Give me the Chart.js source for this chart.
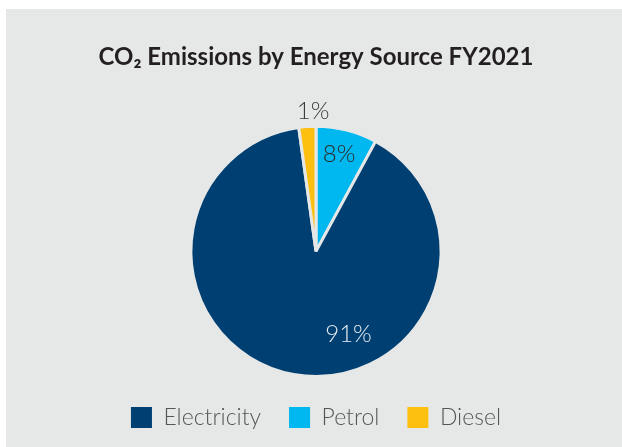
<!DOCTYPE html>
<html>
<head>
<meta charset="utf-8">
<script src="https://cdn.jsdelivr.net/npm/chart.js@4"></script>
<style>
  html, body { margin: 0; padding: 0; background: #ffffff; }
  #panel { position: absolute; left: 6px; top: 9px; width: 616px; height: 438px; background: #e6e8e8; }
</style>
</head>
<body>
<div id="panel"><canvas id="co2-pie"></canvas></div>
<script>
// slices clockwise from 12 o'clock
const sources = ["Petrol", "Electricity", "Diesel"];
const shares = [7.9, 89.9, 2.2];
const shareLabels = ["8%", "91%", "1%"];
const legendOrder = ["Electricity", "Petrol", "Diesel"];

const colours = ["#00b8f0", "#003f72", "#fdc010"];
const labelColours = ["#2b2b2b", "#e9eef3", "#3a3a3a"];
// where each % label sits: fraction along the slice angle, fraction of radius
const labelPlacement = [
  { a: 0.47, r: 0.8 },
  { a: 0.402, r: 0.71 },
  { a: 0.85, r: 1.12 },
];

const sliceLabels = {
  id: "sliceLabels",
  afterDatasetsDraw(chart) {
    const { ctx } = chart;
    const arcs = chart.getDatasetMeta(0).data;
    ctx.save();
    ctx.font = "300 24px Lato";
    ctx.textAlign = "center";
    ctx.textBaseline = "middle";
    arcs.forEach((arc, i) => {
      const { x, y, startAngle, endAngle, outerRadius } = arc.getProps(
        ["x", "y", "startAngle", "endAngle", "outerRadius"],
        true
      );
      const p = labelPlacement[i];
      const ang = startAngle + (endAngle - startAngle) * p.a;
      const r = outerRadius * p.r;
      ctx.fillStyle = labelColours[i];
      ctx.fillText(shareLabels[i], x + Math.cos(ang) * r, y + Math.sin(ang) * r);
    });
    ctx.restore();
  },
};

new Chart(document.getElementById("co2-pie"), {
  type: "pie",
  data: {
    labels: sources,
    datasets: [
      {
        data: shares,
        backgroundColor: colours,
        borderColor: "#e6e8e8",
        borderWidth: 3,
        hoverOffset: 0,
      },
    ],
  },
  options: {
    responsive: true,
    maintainAspectRatio: false,
    animation: false,
    layout: { padding: { left: 4, right: 0, top: 0, bottom: 8 } },
    plugins: {
      title: {
        display: true,
        text: "CO₂ Emissions by Energy Source FY2021",
        color: "#231f20",
        font: { family: "Lato", size: 24, weight: "bold" },
        padding: { top: 34, bottom: 53 },
      },
      legend: {
        position: "bottom",
        labels: {
          boxWidth: 21,
          boxHeight: 21,
          padding: 28,
          color: "#555658",
          font: { family: "Lato", size: 23, weight: "300" },
          generateLabels: (chart) =>
            Chart.overrides.pie.plugins.legend.labels
              .generateLabels(chart)
              .map((item) => ({ ...item, lineWidth: 0, strokeStyle: item.fillStyle })),
          sort: (a, b) => legendOrder.indexOf(a.text) - legendOrder.indexOf(b.text),
        },
      },
      tooltip: { enabled: false },
    },
  },
  plugins: [sliceLabels],
});
</script>
</body>
</html>
